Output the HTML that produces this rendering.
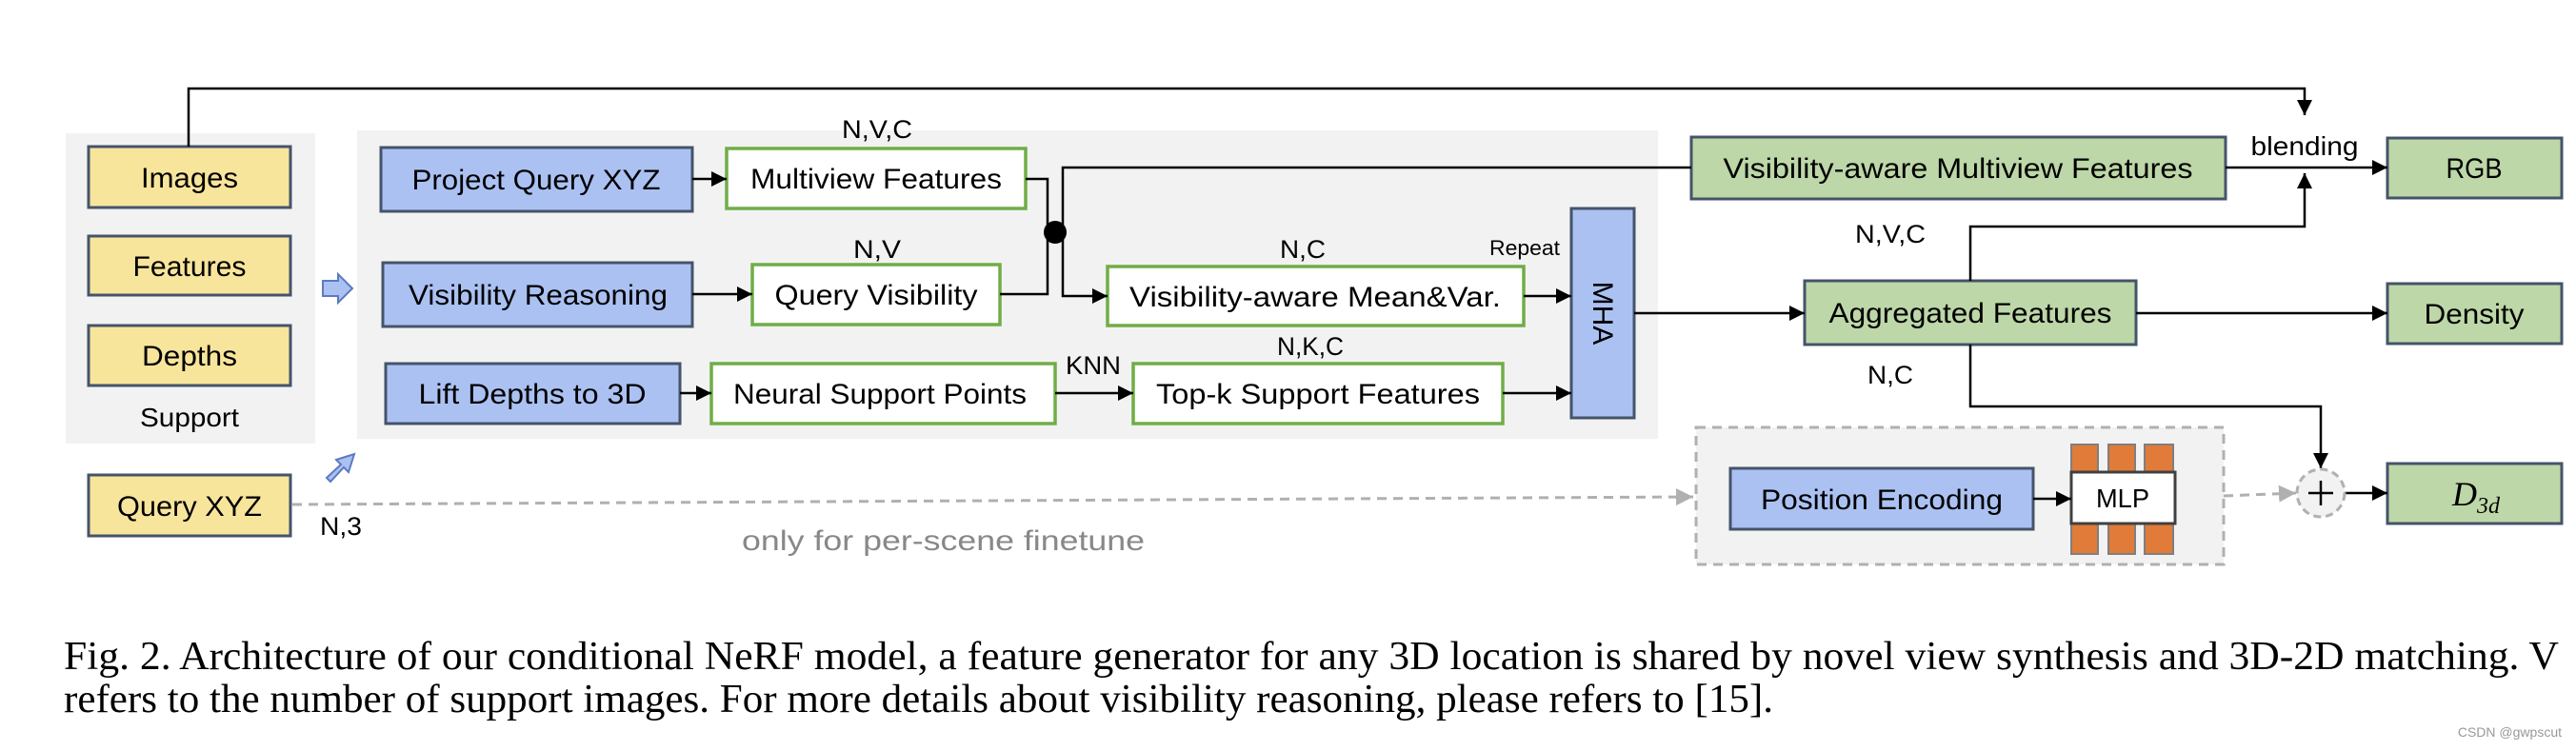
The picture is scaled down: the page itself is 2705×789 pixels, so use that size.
<!DOCTYPE html>
<html><head><meta charset="utf-8"><style>
html,body{margin:0;padding:0;background:#fff}
svg{display:block}
text{font-family:"Liberation Sans",sans-serif;fill:#000}
.cap{font-family:"Liberation Serif",serif;font-size:42px}
</style></head><body>
<svg width="2705" height="789" viewBox="0 0 2705 789" xmlns="http://www.w3.org/2000/svg">
<defs>
<marker id="a" viewBox="0 0 10 10" refX="10" refY="5" markerWidth="16" markerHeight="16" markerUnits="userSpaceOnUse" orient="auto"><path d="M0,0L10,5L0,10z" fill="#000"/></marker>
<marker id="g" viewBox="0 0 10 10" refX="10" refY="5" markerWidth="18" markerHeight="18" markerUnits="userSpaceOnUse" orient="auto"><path d="M0,0L10,5L0,10z" fill="#b0b0b0"/></marker>
</defs>
<rect x="69" y="140" width="262" height="326" fill="#f2f2f2"/>
<rect x="375" y="137" width="1366" height="324" fill="#f2f2f2"/>
<rect x="1781" y="449" width="554" height="144" fill="#f2f2f2" stroke="#b0b0b0" stroke-width="3" stroke-dasharray="10,7"/>

<g stroke="#44546a" stroke-width="3">
<rect x="93" y="154" width="212" height="64" fill="#f8e59c"/>
<rect x="93" y="248" width="212" height="62" fill="#f8e59c"/>
<rect x="93" y="342" width="212" height="63" fill="#f8e59c"/>
<rect x="93" y="499" width="212" height="64" fill="#f8e59c"/>
<rect x="400" y="155" width="327" height="67" fill="#abc1f2"/>
<rect x="402" y="276" width="325" height="67" fill="#abc1f2"/>
<rect x="405" y="382" width="309" height="63" fill="#abc1f2"/>
<rect x="1650" y="219" width="66" height="220" fill="#abc1f2"/>
<rect x="1817" y="492" width="318" height="64" fill="#abc1f2"/>
<rect x="1776" y="144" width="561" height="65" fill="#bdd7a8"/>
<rect x="2507" y="145" width="183" height="63" fill="#bdd7a8"/>
<rect x="1895" y="295" width="348" height="67" fill="#bdd7a8"/>
<rect x="2507" y="298" width="183" height="63" fill="#bdd7a8"/>
<rect x="2507" y="487" width="183" height="63" fill="#bdd7a8"/>
</g>
<g stroke="#70ad47" stroke-width="3.5" fill="#fff">
<rect x="763" y="156" width="314" height="63"/>
<rect x="790" y="278" width="260" height="63"/>
<rect x="747" y="382" width="361" height="63"/>
<rect x="1163" y="280" width="437" height="62"/>
<rect x="1190" y="382" width="388" height="63"/>
</g>
<g fill="#e07b39" stroke="#7f7f7f" stroke-width="2">
<rect x="2175" y="467" width="28" height="115"/>
<rect x="2214" y="467" width="28" height="115"/>
<rect x="2252" y="467" width="30" height="115"/>
</g>
<rect x="2175" y="496" width="109" height="54" fill="#fff" stroke="#404040" stroke-width="3"/>

<g stroke="#000" stroke-width="2.5" fill="none">
<path d="M198,154V93H2420V121" marker-end="url(#a)"/>
<path d="M727,188H763" marker-end="url(#a)"/>
<path d="M727,309H790" marker-end="url(#a)"/>
<path d="M714,413H747" marker-end="url(#a)"/>
<path d="M1077,188H1100V309H1050"/>
<path d="M1776,176H1116V311H1163" marker-end="url(#a)"/>
<path d="M1600,311H1650" marker-end="url(#a)"/>
<path d="M1108,413H1190" marker-end="url(#a)"/>
<path d="M1578,413H1650" marker-end="url(#a)"/>
<path d="M1716,329H1895" marker-end="url(#a)"/>
<path d="M2337,176H2507" marker-end="url(#a)"/>
<path d="M2069,295V238H2420V182" marker-end="url(#a)"/>
<path d="M2243,329H2507" marker-end="url(#a)"/>
<path d="M2069,362V427H2437V492" marker-end="url(#a)"/>
<path d="M2462,518H2507" marker-end="url(#a)"/>
<path d="M2135,524H2175" marker-end="url(#a)"/>
</g>
<circle cx="1108" cy="244" r="12" fill="#000"/>
<g stroke="#b0b0b0" stroke-width="3" stroke-dasharray="10,7" fill="none">
<path d="M307,530L1778,522" marker-end="url(#g)"/>
<path d="M2335,521L2411,518" marker-end="url(#g)"/>
</g>
<circle cx="2437" cy="518" r="25" fill="#f2f2f2" stroke="#b0b0b0" stroke-width="3" stroke-dasharray="8,5"/>
<path d="M2437,505V531M2424,518H2450" stroke="#000" stroke-width="2.5"/>
<path d="M339,295H355V288L370,303L355,318V311H339Z" fill="#abc1f2" stroke="#5b7bc0" stroke-width="2"/>
<path d="M343,502L358,488L353,483L372,477L366,496L361,491L347,506Z" fill="#abc1f2" stroke="#5b7bc0" stroke-width="2"/>

<g font-size="30" text-anchor="middle">
<text x="199" y="197" textLength="102" lengthAdjust="spacingAndGlyphs">Images</text>
<text x="199" y="290" textLength="119" lengthAdjust="spacingAndGlyphs">Features</text>
<text x="199" y="384" textLength="100" lengthAdjust="spacingAndGlyphs">Depths</text>
<text x="199" y="448" font-size="28" textLength="104" lengthAdjust="spacingAndGlyphs">Support</text>
<text x="199" y="542" textLength="152" lengthAdjust="spacingAndGlyphs">Query XYZ</text>
<text x="563" y="199" textLength="261" lengthAdjust="spacingAndGlyphs">Project Query XYZ</text>
<text x="920" y="198" textLength="264" lengthAdjust="spacingAndGlyphs">Multiview Features</text>
<text x="565" y="320" textLength="272" lengthAdjust="spacingAndGlyphs">Visibility Reasoning</text>
<text x="920" y="320" textLength="213" lengthAdjust="spacingAndGlyphs">Query Visibility</text>
<text x="559" y="424" textLength="239" lengthAdjust="spacingAndGlyphs">Lift Depths to 3D</text>
<text x="924" y="424" textLength="308" lengthAdjust="spacingAndGlyphs">Neural Support Points</text>
<text x="1381" y="322" textLength="390" lengthAdjust="spacingAndGlyphs">Visibility-aware Mean&amp;Var.</text>
<text x="1384" y="424" textLength="340" lengthAdjust="spacingAndGlyphs">Top-k Support Features</text>
<text x="2056" y="187" textLength="493" lengthAdjust="spacingAndGlyphs">Visibility-aware Multiview Features</text>
<text x="2598" y="187" textLength="59" lengthAdjust="spacingAndGlyphs">RGB</text>
<text x="2069" y="339" textLength="297" lengthAdjust="spacingAndGlyphs">Aggregated Features</text>
<text x="2598" y="340" textLength="105" lengthAdjust="spacingAndGlyphs">Density</text>
<text x="1976" y="535" textLength="254" lengthAdjust="spacingAndGlyphs">Position Encoding</text>
<text x="2229" y="533" font-size="28" textLength="56" lengthAdjust="spacingAndGlyphs">MLP</text>
<text x="2420" y="163" font-size="28" textLength="113" lengthAdjust="spacingAndGlyphs">blending</text>
</g>
<g font-size="27" text-anchor="middle">
<text x="921" y="145" textLength="74" lengthAdjust="spacingAndGlyphs">N,V,C</text>
<text x="921" y="271" textLength="50" lengthAdjust="spacingAndGlyphs">N,V</text>
<text x="1368" y="271" textLength="48" lengthAdjust="spacingAndGlyphs">N,C</text>
<text x="1376" y="373" textLength="70" lengthAdjust="spacingAndGlyphs">N,K,C</text>
<text x="1148" y="393" textLength="58" lengthAdjust="spacingAndGlyphs">KNN</text>
<text x="1985" y="255" textLength="74" lengthAdjust="spacingAndGlyphs">N,V,C</text>
<text x="1985" y="403" textLength="48" lengthAdjust="spacingAndGlyphs">N,C</text>
<text x="358" y="562" textLength="44" lengthAdjust="spacingAndGlyphs">N,3</text>
<text x="1601" y="268" font-size="22" textLength="74" lengthAdjust="spacingAndGlyphs">Repeat</text>
</g>
<text x="1683" y="329" font-size="30" text-anchor="middle" transform="rotate(90 1683 329)" dy="10">MHA</text>
<text x="779" y="578" font-size="30" style="fill:#888" textLength="423" lengthAdjust="spacingAndGlyphs">only for per-scene finetune</text>
<text x="2575" y="531" font-style="italic" font-size="36" style="font-family:'Liberation Serif',serif">D<tspan font-size="24" dy="8">3d</tspan></text>

<text class="cap" x="67" y="703" textLength="2620" lengthAdjust="spacingAndGlyphs">Fig. 2.   Architecture of our conditional NeRF model, a feature generator for any 3D location is shared by novel view synthesis and 3D-2D matching. V</text>
<text class="cap" x="67" y="748" textLength="1795" lengthAdjust="spacingAndGlyphs">refers to the number of support images. For more details about visibility reasoning, please refers to [15].</text>
<text x="2690" y="774" font-size="14" style="fill:#999" text-anchor="end">CSDN @gwpscut</text>
</svg>
</body></html>
